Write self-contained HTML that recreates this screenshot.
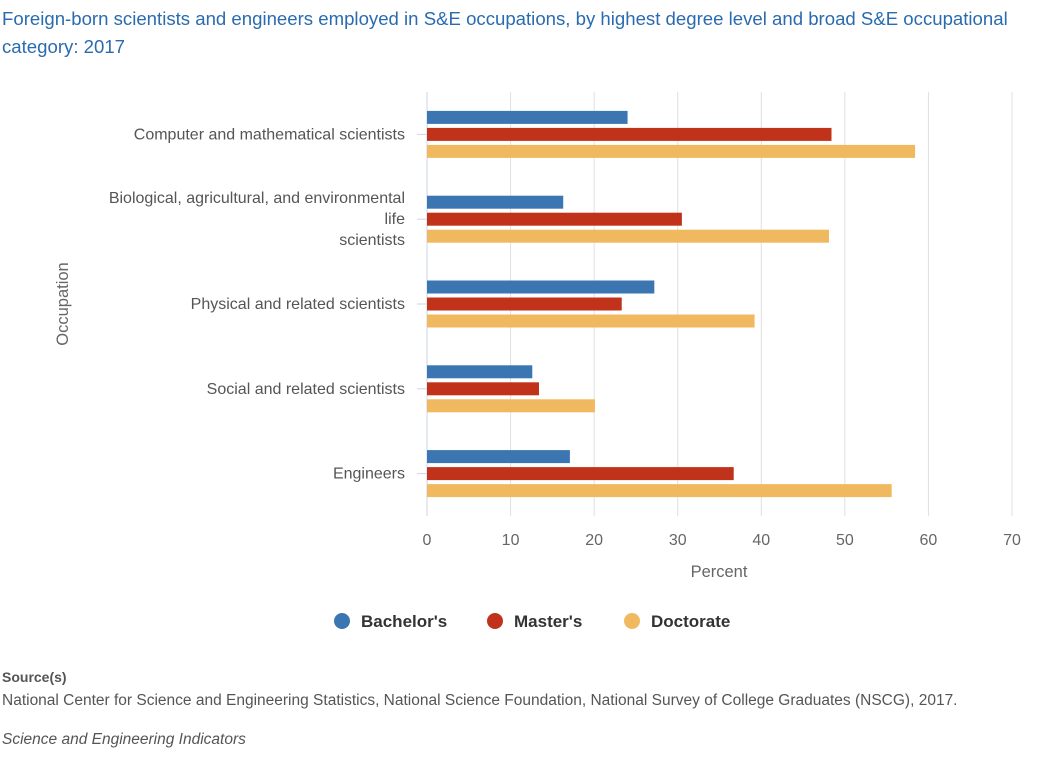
<!DOCTYPE html>
<html><head><meta charset="utf-8"><style>
body{margin:0;background:#fff;font-family:"Liberation Sans",sans-serif;}
#wrap{position:relative;width:1048px;height:763px;overflow:hidden;}
.title{position:absolute;left:2px;top:5px;width:1046px;color:#2a6bb0;font-size:18.6px;line-height:28px;}
.src{position:absolute;left:2px;color:#555;font-size:15.5px;}
</style></head><body>
<div id="wrap">
<div class="title">Foreign-born scientists and engineers employed in S&amp;E occupations, by highest degree level and broad S&amp;E occupational category: 2017</div>
<svg id="chart" width="1048" height="763" style="position:absolute;left:0;top:0"></svg>
<div class="src" style="top:669px;font-weight:bold;font-size:14px">Source(s)</div>
<div class="src" style="top:692px">National Center for Science and Engineering Statistics, National Science Foundation, National Survey of College Graduates (NSCG), 2017.</div>
<div class="src" style="top:731px;font-style:italic">Science and Engineering Indicators</div>
</div>
<script>
const categories=[["Computer and mathematical scientists"],["Biological, agricultural, and environmental","life","scientists"],["Physical and related scientists"],["Social and related scientists"],["Engineers"]];
const seriesNames=["Bachelor's","Master's","Doctorate"];
const bachelors=[24.0,16.3,27.2,12.6,17.1];
const masters=[48.4,30.5,23.3,13.4,36.7];
const doctorate=[58.4,48.1,39.2,20.1,55.6];
const ticks=[0,10,20,30,40,50,60,70];
const colors=["#3b76b3","#c0331a","#f1b95f"];
const NS="http://www.w3.org/2000/svg";
const svg=document.getElementById('chart');
const x0=427,x1=1012,yTop=92,yBot=516;
const xs=v=>x0+(v-0)/(70-0)*(x1-x0);
const band=(yBot-yTop)/categories.length;
function mk(t,a){const e=document.createElementNS(NS,t);for(const k in a)e.setAttribute(k,a[k]);svg.appendChild(e);return e;}
ticks.forEach(t=>{
 const g=mk('line',{x1:xs(t),x2:xs(t),y1:yTop,y2:yBot,stroke:t===0?'#ccd6eb':'#e0e0e0','stroke-width':1});
 
 
 const l=mk('text',{x:xs(t),y:545,'text-anchor':'middle','font-size':16,fill:'#666','font-family':'Liberation Sans'});
 l.textContent=t;
 
 
});
const series=[bachelors,masters,doctorate];
categories.forEach((c,i)=>{
 const cy=yTop+band*(i+0.5);
 const tk=mk('line',{x1:x0-10,x2:x0,y1:cy,y2:cy,stroke:'#ccd6eb'});
 
 
 const t=mk('text',{x:405,'text-anchor':'end','font-size':16,fill:'#555','font-family':'Liberation Sans'});
 
 
 c.forEach((line,j)=>{const ts=document.createElementNS(NS,'tspan');ts.setAttribute('x',c.length>1&&j>0?(j===1?405:405):405);ts.setAttribute('y',cy+5+(j-(c.length-1)/2)*21);ts.textContent=line;t.appendChild(ts);});
 series.forEach((s,k)=>{
  const y=cy+(k-1)*17-6.5;
  const r=mk('rect',{x:xs(0),y:y,width:xs(s[i])-xs(0),height:13,fill:colors[k]});
  
  
 });
});
const xt=mk('text',{x:719,y:577,'text-anchor':'middle','font-size':16.5,fill:'#666','font-family':'Liberation Sans'});
xt.textContent='Percent';


const yt=mk('text',{x:0,y:0,'text-anchor':'middle','font-size':16.5,fill:'#666','font-family':'Liberation Sans',transform:'translate(68,304) rotate(-90)'});
yt.textContent='Occupation';


const lx=[342,495,632];
seriesNames.forEach((n,k)=>{
 const c=mk('circle',{cx:lx[k],cy:621,r:8,fill:colors[k]});
 
 
 const t=mk('text',{x:lx[k]+19,y:627,'font-size':17,'font-weight':'bold',fill:'#333','font-family':'Liberation Sans'});
 t.textContent=n;
 
 
});
</script>
</body></html>
